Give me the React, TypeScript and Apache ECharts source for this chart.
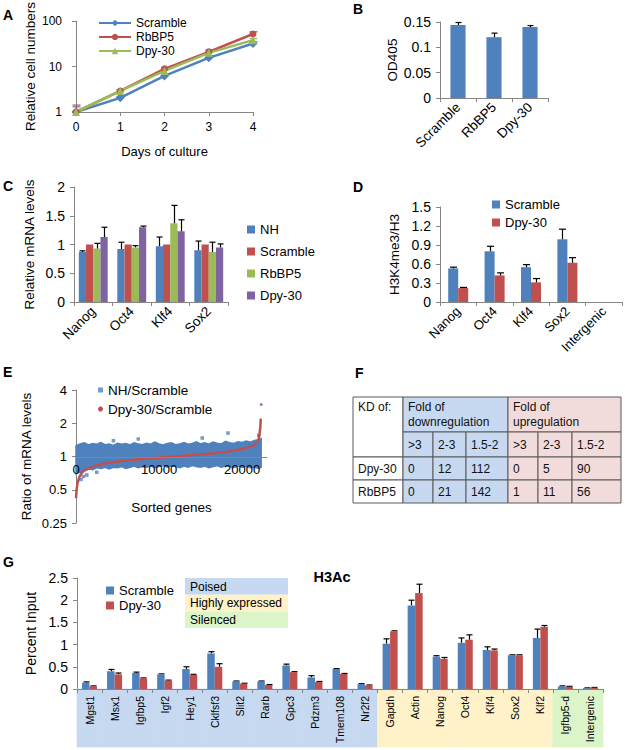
import React, { useEffect, useRef } from 'react';
import * as echarts from 'echarts';

const FONT = '"Liberation Sans", Arial, sans-serif';
const BLUE = '#4f81bd';
const RED = '#c0504d';
const GREEN = '#9bbb59';
const PURPLE = '#8064a2';
const AX = '#868686';

// ---------- Panel A ----------
const daysA = [0, 1, 2, 3, 4];
const aScramble = [1, 2.05, 6.2, 15.5, 32];
const aScrambleErr = [1.3, 2.2, 6.7, 17.5, 35];
const aRbBP5 = [1, 2.9, 8.9, 21, 52];
const aRbBP5Err = [1.42, 3.1, 9.6, 23, 58];
const aDpy30 = [1, 2.9, 8, 20, 38];
const aDpy30Err = [1.04, 3.05, 8.6, 21.5, 41];

// ---------- Panel B ----------
const catsB = ['Scramble', 'RbBP5', 'Dpy-30'];
const bVals = [0.144, 0.12, 0.14];
const bErr = [0.149, 0.128, 0.143];

// ---------- Panel C ----------
const catsC = ['Nanog', 'Oct4', 'Klf4', 'Sox2'];
const cNH = [0.87, 0.92, 0.97, 0.9];
const cNHErr = [0.89, 1.04, 1.13, 1.06];
const cScramble = [1, 1, 1, 1];
const cRbBP5 = [0.93, 0.95, 1.37, 0.87];
const cRbBP5Err = [1.02, 0.98, 1.68, 1.04];
const cDpy30 = [1.13, 1.3, 1.23, 0.95];
const cDpy30Err = [1.3, 1.32, 1.43, 1.01];

// ---------- Panel D ----------
const catsD = ['Nanog', 'Oct4', 'Klf4', 'Sox2', 'Intergenic'];
const dScramble = [0.53, 0.8, 0.55, 0.99, 0];
const dScrambleErr = [0.55, 0.88, 0.59, 1.15, 0];
const dDpy30 = [0.22, 0.42, 0.31, 0.62, 0];
const dDpy30Err = [0.23, 0.46, 0.37, 0.7, 0];

// ---------- Panel E ----------
const eCloudX = [0, 500, 1000, 1500, 2000, 2500, 3000, 3500, 4000, 4500, 5000, 5500, 6000, 6500, 7000, 7500, 8000, 8500, 9000, 9500, 10000, 10500, 11000, 11500, 12000, 12500, 13000, 13500, 14000, 14500, 15000, 15500, 16000, 16500, 17000, 17500, 18000, 18500, 19000, 19500, 20000, 20500, 21000, 21500, 22000, 22300];
const eCloudUpper = [1.25, 1.3, 1.33, 1.27, 1.31, 1.29, 1.34, 1.28, 1.3, 1.26, 1.32, 1.29, 1.31, 1.27, 1.33, 1.3, 1.28, 1.32, 1.29, 1.35, 1.3, 1.27, 1.31, 1.33, 1.28, 1.3, 1.34, 1.29, 1.31, 1.36, 1.3, 1.33, 1.29, 1.35, 1.32, 1.3, 1.37, 1.33, 1.31, 1.36, 1.34, 1.38, 1.35, 1.4, 1.42, 1.45];
const eCloudLower = [0.7, 0.72, 0.74, 0.77, 0.76, 0.79, 0.78, 0.8, 0.77, 0.8, 0.79, 0.81, 0.78, 0.8, 0.82, 0.79, 0.81, 0.8, 0.82, 0.79, 0.81, 0.83, 0.8, 0.82, 0.81, 0.79, 0.82, 0.8, 0.83, 0.81, 0.8, 0.82, 0.79, 0.81, 0.83, 0.8, 0.82, 0.81, 0.79, 0.82, 0.8, 0.81, 0.79, 0.8, 0.78, 0.8];
const eOutlierX = [4500, 7500, 15200, 18300, 22000, 600, 900, 1300, 2500];
const eOutlierY = [1.39, 1.44, 1.47, 1.63, 1.56, 0.62, 0.66, 0.68, 0.72];
const eRedX = [0, 50, 100, 200, 400, 700, 1000, 1500, 2000, 3000, 4000, 5000, 6000, 7000, 8000, 9000, 10000, 11000, 12000, 13000, 14000, 15000, 16000, 17000, 18000, 19000, 20000, 20800, 21400, 21800, 22000, 22100, 22200, 22250];
const eRedY = [0.42, 0.47, 0.52, 0.58, 0.65, 0.71, 0.75, 0.78, 0.81, 0.85, 0.88, 0.9, 0.92, 0.935, 0.95, 0.96, 0.975, 0.99, 1.0, 1.015, 1.03, 1.045, 1.06, 1.08, 1.1, 1.13, 1.17, 1.21, 1.27, 1.35, 1.45, 1.6, 1.85, 2.2];
const eRedOutX = [22300];
const eRedOutY = [2.95];

// ---------- Panel F ----------
const fSubHeader = ['>3', '2-3', '1.5-2', '>3', '2-3', '1.5-2'];
const fRows = [
  ['Dpy-30', '0', '12', '112', '0', '5', '90'],
  ['RbBP5', '0', '21', '142', '1', '11', '56'],
];

// ---------- Panel G ----------
const catsG = ['Mgst1', 'Msx1', 'Igfbp5', 'Igf2', 'Hey1', 'Cklfsf3', 'Slit2', 'Rarb', 'Gpc3', 'Pdzm3', 'Tmem108', 'Nr2f2', 'Gapdh', 'Actin', 'Nanog', 'Oct4', 'Klf4', 'Sox2', 'Klf2', 'Igfbp5-d', 'Intergenic'];
const gGroup = [0, 0, 0, 0, 0, 0, 0, 0, 0, 0, 0, 0, 1, 1, 1, 1, 1, 1, 1, 2, 2];
const gGroupNames = ['Poised', 'Highly expressed', 'Silenced'];
const gScramble = [0.14, 0.4, 0.36, 0.33, 0.45, 0.8, 0.17, 0.17, 0.53, 0.26, 0.45, 0.11, 1.02, 1.88, 0.73, 1.04, 0.88, 0.76, 1.15, 0.06, 0.02];
const gScrambleErr = [0.16, 0.44, 0.38, 0.34, 0.5, 0.84, 0.18, 0.18, 0.56, 0.3, 0.46, 0.12, 1.13, 2.0, 0.75, 1.15, 0.95, 0.77, 1.35, 0.07, 0.025];
const gDpy30 = [0.06, 0.33, 0.24, 0.19, 0.32, 0.5, 0.12, 0.09, 0.38, 0.16, 0.34, 0.08, 1.3, 2.16, 0.68, 1.11, 0.87, 0.76, 1.4, 0.05, 0.03];
const gDpy30Err = [0.07, 0.36, 0.25, 0.2, 0.33, 0.57, 0.13, 0.1, 0.39, 0.17, 0.35, 0.09, 1.31, 2.36, 0.71, 1.22, 0.9, 0.77, 1.43, 0.06, 0.035];

const GROUP_COLORS = ['#c6d9f1', '#fff2c9', '#dcf5c8'];
const CELL_BLUE = '#c6d9f1';
const CELL_PINK = '#f2dcdb';

const axLine = { show: true, lineStyle: { color: AX, width: 1 } };
const axTick = { show: true, length: 4, lineStyle: { color: AX } };
const noSplit = { show: false };

function errSeries(xi: number, yi: number, xs: number[], vals: number[], hi: number[], k: number, n: number, gap: number, color: string, cap: number, category: boolean) {
  return {
    type: 'custom',
    xAxisIndex: xi,
    yAxisIndex: yi,
    z: 3,
    silent: true,
    data: vals.map((v, i) => [xs[i], v, hi[i]]),
    encode: { x: 0, y: [1, 2] },
    renderItem: (params: any, api: any) => {
      const x0 = api.value(0);
      const v = api.value(1);
      const h = api.value(2);
      if (!(h > v)) return null;
      const p1 = api.coord([x0, v]);
      const p2 = api.coord([x0, h]);
      let off = 0;
      if (category) {
        const bw = api.size([1, 0])[0];
        const grp = bw * (1 - gap);
        const w = grp / n;
        off = -grp / 2 + (k + 0.5) * w;
      }
      const x = Math.round(p1[0] + off) + 0.5;
      return {
        type: 'group',
        children: [
          { type: 'line', shape: { x1: x, y1: p1[1], x2: x, y2: p2[1] }, style: { stroke: color, lineWidth: 1.2 } },
          { type: 'line', shape: { x1: x - cap, y1: p2[1], x2: x + cap, y2: p2[1] }, style: { stroke: color, lineWidth: 1.2 } },
        ],
      };
    },
  };
}

function idx(arr: any[]) {
  return arr.map((_, i) => i);
}

function buildTable() {
  const colEdges = [353, 403, 433, 466, 508, 538, 572, 621];
  const rowEdges = [397, 432, 457, 480, 503];
  const els: any[] = [];
  const border = '#5a5a5a';
  const rect = (x1: number, y1: number, x2: number, y2: number, fill: string) =>
    els.push({ type: 'rect', shape: { x: x1, y: y1, width: x2 - x1, height: y2 - y1 }, style: { fill, stroke: border, lineWidth: 1 } });
  const txt = (x: number, y: number, t: string) =>
    els.push({ type: 'text', x, y, style: { text: t, fontSize: 12, fontFamily: FONT, fill: '#111', align: 'left', verticalAlign: 'middle' } });
  rect(colEdges[0], rowEdges[0], colEdges[1], rowEdges[2], '#ffffff');
  rect(colEdges[1], rowEdges[0], colEdges[4], rowEdges[1], CELL_BLUE);
  rect(colEdges[4], rowEdges[0], colEdges[7], rowEdges[1], CELL_PINK);
  txt(colEdges[0] + 5, 407, 'KD of:');
  txt(colEdges[1] + 5, 407, 'Fold of');
  txt(colEdges[1] + 5, 422, 'downregulation');
  txt(colEdges[4] + 5, 407, 'Fold of');
  txt(colEdges[4] + 5, 422, 'upregulation');
  fSubHeader.forEach((s, j) => {
    rect(colEdges[j + 1], rowEdges[1], colEdges[j + 2], rowEdges[2], j < 3 ? CELL_BLUE : CELL_PINK);
    txt(colEdges[j + 1] + 5, (rowEdges[1] + rowEdges[2]) / 2, s);
  });
  fRows.forEach((row, r) => {
    row.forEach((s, j) => {
      rect(colEdges[j], rowEdges[r + 2], colEdges[j + 1], rowEdges[r + 3], j === 0 ? '#ffffff' : j < 4 ? CELL_BLUE : CELL_PINK);
      txt(colEdges[j] + 5, (rowEdges[r + 2] + rowEdges[r + 3]) / 2, s);
    });
  });
  return els;
}

function letter(t: string, x: number, y: number) {
  return { type: 'text', x, y, style: { text: t, fontSize: 14, fontWeight: 'bold', fontFamily: FONT, fill: '#000', align: 'left', verticalAlign: 'middle' } };
}

function buildOption(): any {
  const lab = (size: number, extra: any = {}) => ({ fontSize: size, color: '#000', fontFamily: FONT, ...extra });
  const nameStyle = (size: number) => ({ fontSize: size, color: '#000', fontFamily: FONT });

  const aDefs = [
    { name: 'Scramble', vals: aScramble, err: aScrambleErr, color: BLUE, symbol: 'diamond', size: 9 },
    { name: 'RbBP5', vals: aRbBP5, err: aRbBP5Err, color: RED, symbol: 'circle', size: 7 },
    { name: 'Dpy-30', vals: aDpy30, err: aDpy30Err, color: GREEN, symbol: 'triangle', size: 8 },
  ];

  const series: any[] = [];
  // A
  aDefs.forEach((d) => {
    series.push(errSeries(0, 0, daysA, d.vals, d.err, 0, 1, 0, d.color, 4, false));
  });
  aDefs.forEach((d) => {
    series.push({
      type: 'line', name: d.name, xAxisIndex: 0, yAxisIndex: 0,
      data: daysA.map((x, i) => [x, d.vals[i]]),
      symbol: d.symbol, symbolSize: d.size,
      lineStyle: { color: d.color, width: 2.5 },
      itemStyle: { color: d.color },
      z: 4,
    });
  });
  // B
  series.push({ type: 'bar', name: 'B:OD405', xAxisIndex: 1, yAxisIndex: 1, data: bVals, itemStyle: { color: BLUE }, barCategoryGap: '58%' });
  series.push(errSeries(1, 1, idx(catsB), bVals, bErr, 0, 1, 0.58, '#000', 3, true));
  // C
  const cDefs = [
    { name: 'C:NH', vals: cNH, err: cNHErr, color: BLUE },
    { name: 'C:Scramble', vals: cScramble, err: cScramble, color: RED },
    { name: 'C:RbBP5', vals: cRbBP5, err: cRbBP5Err, color: GREEN },
    { name: 'C:Dpy-30', vals: cDpy30, err: cDpy30Err, color: PURPLE },
  ];
  cDefs.forEach((d, k) => {
    series.push({ type: 'bar', name: d.name, xAxisIndex: 2, yAxisIndex: 2, data: d.vals, itemStyle: { color: d.color }, barCategoryGap: '25%', barGap: '0%' });
  });
  cDefs.forEach((d, k) => {
    series.push(errSeries(2, 2, idx(catsC), d.vals, d.err, k, 4, 0.25, '#000', 3, true));
  });
  // D
  const dDefs = [
    { name: 'D:Scramble', vals: dScramble, err: dScrambleErr, color: BLUE },
    { name: 'D:Dpy-30', vals: dDpy30, err: dDpy30Err, color: RED },
  ];
  dDefs.forEach((d) => {
    series.push({ type: 'bar', name: d.name, xAxisIndex: 3, yAxisIndex: 3, data: d.vals, itemStyle: { color: d.color }, barCategoryGap: '45%', barGap: '0%' });
  });
  dDefs.forEach((d, k) => {
    series.push(errSeries(3, 3, idx(catsD), d.vals, d.err, k, 2, 0.45, '#000', 3.5, true));
  });
  // E
  series.push({
    type: 'custom', xAxisIndex: 4, yAxisIndex: 4, silent: true, z: 2,
    data: [[eCloudX[0], eCloudUpper[0]]],
    encode: { x: 0, y: 1 },
    renderItem: (params: any, api: any) => {
      const pts: number[][] = [];
      for (let i = 0; i < eCloudX.length; i++) pts.push(api.coord([eCloudX[i], eCloudUpper[i]]));
      for (let i = eCloudX.length - 1; i >= 0; i--) pts.push(api.coord([eCloudX[i], eCloudLower[i]]));
      return { type: 'polygon', shape: { points: pts }, style: { fill: BLUE, stroke: BLUE, lineWidth: 1.5, lineJoin: 'miter' } };
    },
  });
  series.push({
    type: 'scatter', name: 'E:NH/Scramble', xAxisIndex: 4, yAxisIndex: 4, z: 3,
    data: eOutlierX.map((x, i) => [x, eOutlierY[i]]),
    symbol: 'rect', symbolSize: 3.5, itemStyle: { color: BLUE },
  });
  series.push({
    type: 'line', name: 'E:Dpy-30/Scramble', xAxisIndex: 4, yAxisIndex: 4, z: 4,
    data: eRedX.map((x, i) => [x, eRedY[i]]),
    showSymbol: false, symbol: 'circle', lineStyle: { color: RED, width: 2.5 }, itemStyle: { color: RED },
  });
  series.push({
    type: 'scatter', name: 'E:redout', xAxisIndex: 4, yAxisIndex: 4, z: 4,
    data: eRedOutX.map((x, i) => [x, eRedOutY[i]]),
    symbol: 'circle', symbolSize: 3, itemStyle: { color: RED },
  });
  // G
  series.push({
    type: 'custom', xAxisIndex: 6, yAxisIndex: 6, silent: true, z: 1,
    data: catsG.map((c, i) => [i, 0, gGroup[i]]),
    encode: { x: 0, y: 1 },
    renderItem: (params: any, api: any) => {
      const p = api.coord([api.value(0), 0]);
      const bw = api.size([1, 0])[0];
      const col = GROUP_COLORS[api.value(2)];
      return { type: 'rect', shape: { x: p[0] - bw / 2, y: p[1], width: bw, height: 58 }, style: { fill: col, stroke: col, lineWidth: 0.8 } };
    },
  });
  const gDefs = [
    { name: 'G:Scramble', vals: gScramble, err: gScrambleErr, color: BLUE },
    { name: 'G:Dpy-30', vals: gDpy30, err: gDpy30Err, color: RED },
  ];
  gDefs.forEach((d) => {
    series.push({ type: 'bar', name: d.name, xAxisIndex: 6, yAxisIndex: 6, data: d.vals, itemStyle: { color: d.color }, barCategoryGap: '40%', barGap: '0%', z: 3 });
  });
  gDefs.forEach((d, k) => {
    series.push(errSeries(6, 6, idx(catsG), d.vals, d.err, k, 2, 0.4, '#000', 3, true));
  });

  const fmt = (name: string) => name.replace(/^[A-Z]:/, '');
  const legTxt = (s: number) => ({ fontSize: s, color: '#000', fontFamily: FONT });

  const graphic: any[] = [
    letter('A', 3, 15),
    letter('B', 353, 9),
    letter('C', 3, 186),
    letter('D', 353, 187),
    letter('E', 3, 372),
    letter('F', 355, 373),
    letter('G', 3, 562),
    ...buildTable(),
    { type: 'text', x: 332, y: 577, style: { text: 'H3Ac', fontSize: 14.5, fontWeight: 'bold', fontFamily: FONT, fill: '#000', align: 'center', verticalAlign: 'middle' } },
  ];
  gGroupNames.forEach((g, i) => {
    graphic.push({ type: 'rect', shape: { x: 185, y: 578 + i * 16.7, width: 103, height: 16.7 }, style: { fill: GROUP_COLORS[i] } });
    graphic.push({ type: 'text', x: 190, y: 578 + i * 16.7 + 8.5, style: { text: g, fontSize: 12, fontFamily: FONT, fill: '#000', align: 'left', verticalAlign: 'middle' } });
  });

  return {
    animation: false,
    backgroundColor: '#ffffff',
    textStyle: { fontFamily: FONT },
    grid: [
      { left: 76, top: 19, width: 177, height: 93 },
      { left: 440, top: 22, width: 108, height: 76 },
      { left: 74, top: 187, width: 154, height: 115 },
      { left: 440, top: 207, width: 182, height: 95 },
      { left: 76, top: 390, width: 191, height: 133 },
      { left: 76, top: 390, width: 191, height: 67 },
      { left: 77, top: 578, width: 526, height: 111 },
    ],
    legend: [
      { left: 93, top: 12, orient: 'vertical', itemWidth: 32, itemHeight: 8, itemGap: 2, selectedMode: false, data: ['Scramble', 'RbBP5', 'Dpy-30'], textStyle: legTxt(12) },
      { left: 242, top: 218, orient: 'vertical', itemWidth: 8, itemHeight: 8, itemGap: 9, icon: 'rect', selectedMode: false, data: ['C:NH', 'C:Scramble', 'C:RbBP5', 'C:Dpy-30'], formatter: fmt, textStyle: legTxt(13) },
      { left: 487, top: 193, orient: 'vertical', itemWidth: 8, itemHeight: 8, itemGap: 5, icon: 'rect', selectedMode: false, data: ['D:Scramble', 'D:Dpy-30'], formatter: fmt, textStyle: legTxt(13) },
      { left: 93, top: 378, orient: 'vertical', itemWidth: 5, itemHeight: 5, itemGap: 5, selectedMode: false, data: [{ name: 'E:NH/Scramble', icon: 'rect' }, { name: 'E:Dpy-30/Scramble', icon: 'circle' }], formatter: fmt, textStyle: legTxt(13.5) },
      { left: 101, top: 579, orient: 'vertical', itemWidth: 8, itemHeight: 8, itemGap: 2, icon: 'rect', selectedMode: false, data: ['G:Scramble', 'G:Dpy-30'], formatter: fmt, textStyle: legTxt(13) },
    ],
    xAxis: [
      { type: 'value', gridIndex: 0, min: 0, max: 4, interval: 1, axisLine: axLine, axisTick: axTick, splitLine: noSplit, axisLabel: lab(12, { margin: 9 }), name: 'Days of culture', nameLocation: 'middle', nameGap: 33, nameTextStyle: nameStyle(13) },
      { type: 'category', gridIndex: 1, data: catsB, axisLine: axLine, axisTick: axTick, axisLabel: lab(13.5, { rotate: 45, interval: 0, margin: 7 }) },
      { type: 'category', gridIndex: 2, data: catsC, axisLine: axLine, axisTick: axTick, axisLabel: lab(13.5, { rotate: 45, interval: 0, margin: 7 }) },
      { type: 'category', gridIndex: 3, data: catsD, axisLine: axLine, axisTick: axTick, axisLabel: lab(13, { rotate: 45, interval: 0, margin: 7 }) },
      { type: 'value', gridIndex: 4, min: 0, max: 23000, show: false },
      { type: 'value', gridIndex: 5, min: 0, max: 23000, interval: 10000, z: 10, axisLine: axLine, axisTick: { show: false }, splitLine: noSplit, axisLabel: lab(13, { margin: 6, showMaxLabel: false, formatter: (v: number) => String(v) }), name: 'Sorted genes', nameLocation: 'middle', nameGap: 43, nameTextStyle: nameStyle(13.5) },
      { type: 'category', gridIndex: 6, data: catsG, z: 10, axisLine: axLine, axisTick: axTick, axisLabel: lab(10.5, { rotate: 90, interval: 0, margin: 7 }) },
    ],
    yAxis: [
      { type: 'log', gridIndex: 0, logBase: 10, min: 1, max: 100, axisLine: axLine, axisTick: axTick, splitLine: noSplit, minorTick: { show: false }, axisLabel: lab(12, { margin: 14 }), name: 'Relative cell numbers', nameLocation: 'middle', nameRotate: 90, nameGap: 39, nameTextStyle: nameStyle(13.5) },
      { type: 'value', gridIndex: 1, min: 0, max: 0.15, interval: 0.05, axisLine: axLine, axisTick: axTick, splitLine: noSplit, axisLabel: lab(14, { margin: 9 }), name: 'OD405', nameLocation: 'middle', nameRotate: 90, nameGap: 41, nameTextStyle: nameStyle(13.5) },
      { type: 'value', gridIndex: 2, min: 0, max: 2, interval: 0.5, axisLine: axLine, axisTick: axTick, splitLine: noSplit, axisLabel: lab(14, { margin: 9 }), name: 'Relative mRNA levels', nameLocation: 'middle', nameRotate: 90, nameGap: 38, nameTextStyle: nameStyle(13.5) },
      { type: 'value', gridIndex: 3, min: 0, max: 1.5, interval: 0.3, axisLine: axLine, axisTick: axTick, splitLine: noSplit, axisLabel: lab(14, { margin: 9 }), name: 'H3K4me3/H3', nameLocation: 'middle', nameRotate: 90, nameGap: 39, nameTextStyle: nameStyle(13.5) },
      { type: 'log', gridIndex: 4, logBase: 2, min: 0.25, max: 4, axisLine: axLine, axisTick: axTick, splitLine: noSplit, minorTick: { show: false }, axisLabel: lab(13, { margin: 9 }), name: 'Ratio of mRNA levels', nameLocation: 'middle', nameRotate: 90, nameGap: 43, nameTextStyle: nameStyle(13.5) },
      { type: 'value', gridIndex: 5, min: 0, max: 1, show: false },
      { type: 'value', gridIndex: 6, min: 0, max: 2.5, interval: 0.5, axisLine: axLine, axisTick: axTick, splitLine: noSplit, axisLabel: lab(14, { margin: 9 }), name: 'Percent Input', nameLocation: 'middle', nameRotate: 90, nameGap: 35, nameTextStyle: nameStyle(14) },
    ],
    graphic,
    series,
  };
}

export default function App() {
  const ref = useRef<HTMLDivElement>(null);
  useEffect(() => {
    if (!ref.current) return;
    const chart = echarts.init(ref.current, undefined, { renderer: 'svg' });
    chart.setOption(buildOption());
    return () => chart.dispose();
  }, []);
  return (
    <div
      ref={ref}
      style={{ position: 'absolute', left: 0, top: 0, width: 625, height: 750, background: '#fff' }}
    />
  );
}
